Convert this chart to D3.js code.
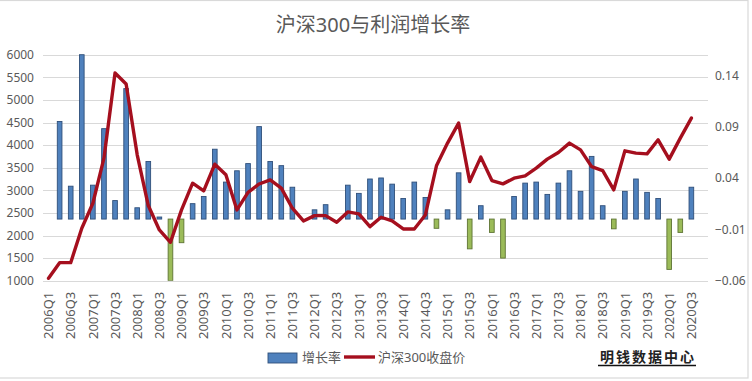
<!DOCTYPE html>
<html><head><meta charset="utf-8">
<script src="https://cdn.jsdelivr.net/npm/d3@7"></script>
<style>
html,body{margin:0;padding:0;background:#fff;}
svg{display:block;}
</style>
</head><body>
<svg id="c" width="752" height="381"></svg>
<script>
const quarters = ["2006Q1","2006Q2","2006Q3","2006Q4","2007Q1","2007Q2","2007Q3","2007Q4","2008Q1","2008Q2","2008Q3","2008Q4",
"2009Q1","2009Q2","2009Q3","2009Q4","2010Q1","2010Q2","2010Q3","2010Q4","2011Q1","2011Q2","2011Q3","2011Q4",
"2012Q1","2012Q2","2012Q3","2012Q4","2013Q1","2013Q2","2013Q3","2013Q4","2014Q1","2014Q2","2014Q3","2014Q4",
"2015Q1","2015Q2","2015Q3","2015Q4","2016Q1","2016Q2","2016Q3","2016Q4","2017Q1","2017Q2","2017Q3","2017Q4",
"2018Q1","2018Q2","2018Q3","2018Q4","2019Q1","2019Q2","2019Q3","2019Q4","2020Q1","2020Q2","2020Q3","2020Q4"];
const growth = [null,0.095,0.032,0.16,0.033,0.088,0.018,0.127,0.011,0.056,0.002,-0.06,
-0.023,0.015,0.022,0.068,0.036,0.047,0.054,0.09,0.056,0.052,0.031,0,
0.009,0.014,0,0.033,0.025,0.039,0.040,0.034,0.020,0.036,0.021,-0.009,
0.009,0.045,-0.029,0.013,-0.013,-0.038,0.022,0.035,0.036,0.024,0.035,0.047,
0.027,0.061,0.013,-0.0095,0.027,0.039,0.026,0.020,-0.049,-0.013,0.031,null];
const closePrice = [1053,1399,1399,2161,2714,3711,5594,5351,3785,2662,2123,1850,
2566,3157,2987,3578,3342,2566,2954,3140,3231,3047,2604,2322,
2440,2440,2294,2522,2478,2196,2404,2322,2145,2145,2455,3541,
4044,4487,3193,3734,3215,3142,3268,3319,3490,3689,3836,4044,
3895,3525,3437,3009,3873,3822,3807,4117,3689,4155,4598,null];
const leftTicks = [1000,1500,2000,2500,3000,3500,4000,4500,5000,5500,6000];
const rightTicks = [-0.06,-0.01,0.04,0.09,0.14];
const xTickLabels = quarters.filter((q,i)=>i%2===0 && i<59);
const title = "沪深300与利润增长率";
const legendBar = "增长率";
const legendLine = "沪深300收盘价";
const watermark = "明钱数据中心";

const svg = d3.select("#c");
const font = "'Noto Sans','Noto Sans CJK SC',sans-serif";
const L=43, R=708, T=54.7, B=280.7;

// frame
svg.append("rect").attr("x",-1).attr("y",0.5).attr("width",749).attr("height",377.5)
  .attr("fill","none").attr("stroke","#d9d9d9").attr("stroke-width",1.2);

const x = d3.scaleBand().domain(quarters).range([L,R]).paddingInner(0.58).paddingOuter(0.29);
const yL = d3.scaleLinear().domain([1000,6000]).range([B,T]);
const yR = d3.scaleLinear().domain([-0.06,0.16]).range([B,T]);

// gridlines
svg.append("g").selectAll("line").data(leftTicks).join("line")
  .attr("x1",L).attr("x2",R).attr("y1",d=>Math.round(yL(d))+0.5).attr("y2",d=>Math.round(yL(d))+0.5)
  .attr("stroke","#d9d9d9").attr("stroke-width",1);

// left axis
const gl = svg.append("g").attr("transform",`translate(${L-9},0)`)
  .call(d3.axisLeft(yL).tickValues(leftTicks).tickSize(0).tickPadding(0).tickFormat(d3.format("d")));
gl.select(".domain").remove();
gl.selectAll("text").attr("font-family",font).attr("font-size",12).attr("fill","#595959");

// right axis
const gr = svg.append("g").attr("transform",`translate(715,0)`)
  .call(d3.axisRight(yR).tickValues(rightTicks).tickSize(0).tickPadding(0).tickFormat(d3.format(".2f")));
gr.select(".domain").remove();
gr.selectAll("text").attr("font-family",font).attr("font-size",12).attr("fill","#595959");

// x axis
const gx = svg.append("g").attr("transform",`translate(0,${B})`)
  .call(d3.axisBottom(x).tickValues(xTickLabels).tickSize(0));
gx.select(".domain").remove();
gx.selectAll("text").attr("font-family",font).attr("font-size",13).attr("fill","#595959")
  .attr("transform","rotate(-90)").attr("text-anchor","end").attr("x",-11).attr("y",0).attr("dy","0.36em");

// bars
const clip = svg.append("clipPath").attr("id","pc").append("rect").attr("x",L).attr("y",T-1).attr("width",R-L).attr("height",B-T+1);
svg.append("g").attr("clip-path","url(#pc)").selectAll("rect")
  .data(quarters.map((q,i)=>({q,v:growth[i]})).filter(d=>d.v!==null && d.v!==0))
  .join("rect")
  .attr("x",d=>x(d.q)).attr("width",x.bandwidth())
  .attr("y",d=>yR(Math.max(0,d.v))).attr("height",d=>Math.abs(yR(d.v)-yR(0)))
  .attr("fill",d=>d.v>=0?"#4f81bd":"#9bbb59")
  .attr("stroke",d=>d.v>=0?"#2f4f7a":"#5e7434").attr("stroke-width",0.9);

// line
const pts = quarters.map((q,i)=>({q,v:closePrice[i]})).filter(d=>d.v!==null);
svg.append("path").datum(pts)
  .attr("d",d3.line().x(d=>x(d.q)+x.bandwidth()/2).y(d=>yL(d.v)))
  .attr("fill","none").attr("stroke","#a50f1e").attr("stroke-width",3.4)
  .attr("stroke-linejoin","round").attr("stroke-linecap","round");

// title
svg.append("text").attr("x",373).attr("y",32).attr("text-anchor","middle")
  .attr("font-family",font).attr("font-size",20).attr("fill","#595959").text(title);

// legend
svg.append("rect").attr("x",268).attr("y",353).attr("width",29).attr("height",10)
  .attr("fill","#4f81bd").attr("stroke","#2f4f7a").attr("stroke-width",0.9);
svg.append("text").attr("x",302).attr("y",361.5).attr("font-family",font).attr("font-size",13)
  .attr("fill","#595959").text(legendBar);
svg.append("line").attr("x1",344).attr("x2",375).attr("y1",357).attr("y2",357)
  .attr("stroke","#a50f1e").attr("stroke-width",3.4);
svg.append("text").attr("x",378).attr("y",361.5).attr("font-family",font).attr("font-size",13)
  .attr("fill","#595959").text(legendLine);

// watermark
svg.append("text").attr("x",600).attr("y",362).attr("font-family","'Noto Sans CJK SC',sans-serif")
  .attr("font-weight","bold").attr("font-size",14).attr("letter-spacing",2).attr("fill","#222").text(watermark);
svg.append("line").attr("x1",598).attr("x2",696).attr("y1",365.5).attr("y2",365.5)
  .attr("stroke","#111").attr("stroke-width",1.5);
</script>
</body></html>
